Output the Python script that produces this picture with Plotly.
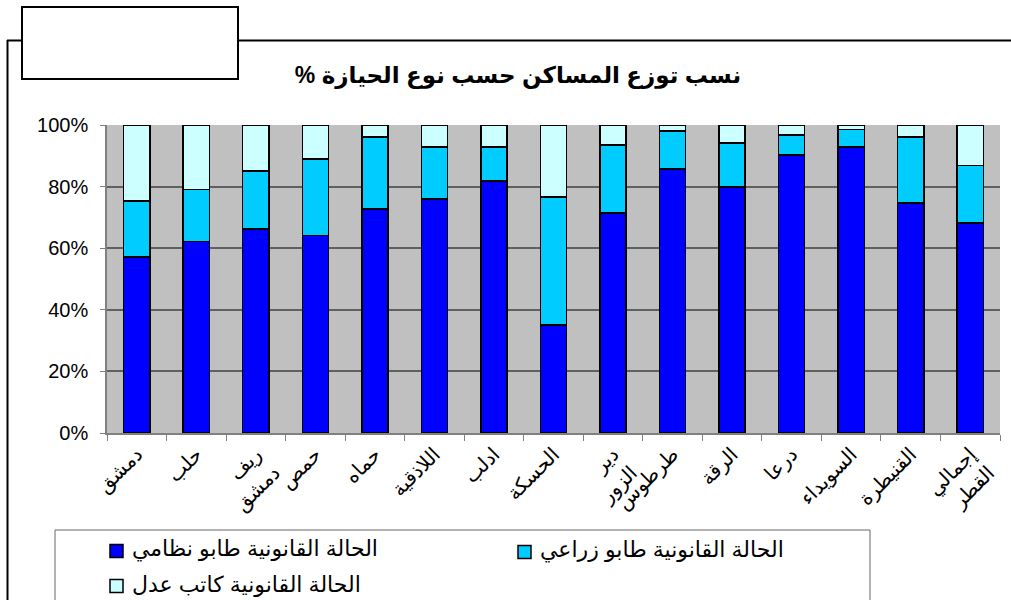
import plotly.graph_objects as go

categories = ["دمشق", "حلب", "ريف دمشق", "حمص", "حماه", "اللاذقية", "ادلب", "الحسكة",
              "دير الزور", "طرطوس", "الرقة", "درعا", "السويداء", "القنيطرة", "إجمالي القطر"]
tick_text = ["دمشق", "حلب", "ريف<br>دمشق", "حمص", "حماه", "اللاذقية", "ادلب", "الحسكة",
             "دير<br>الزور", "طرطوس", "الرقة", "درعا", "السويداء", "القنيطرة", "إجمالي<br>القطر"]

series_names = ["الحالة القانونية طابو نظامي", "الحالة القانونية طابو زراعي", "الحالة القانونية كاتب عدل"]
tabu_nizami = [57.1, 62.2, 66.2, 64.2, 72.7, 76.0, 81.8, 35.1, 71.4, 85.7, 79.9, 90.3, 92.9, 74.7, 68.2]
tabu_ziraei = [18.2, 16.9, 18.8, 24.8, 23.4, 16.9, 11.1, 41.5, 22.1, 12.4, 14.3, 6.5, 5.7, 21.4, 18.7]
katib_adl = [24.7, 20.9, 15.0, 11.0, 3.9, 7.1, 7.1, 23.4, 6.5, 1.9, 5.8, 3.2, 1.4, 3.9, 13.1]
colors = ["#0000FF", "#00CCFF", "#CCFFFF"]
y_ticks = [0, 20, 40, 60, 80, 100]
y_tick_labels = ["0%", "20%", "40%", "60%", "80%", "100%"]
title_text = "نسب توزع المساكن حسب نوع الحيازة %"

FONT = "Arial, 'Liberation Sans', 'DejaVu Sans', sans-serif"
RLM = "\u200f"

fig = go.Figure()
for name, vals, col in zip(series_names, [tabu_nizami, tabu_ziraei, katib_adl], colors):
    fig.add_trace(go.Bar(x=categories, y=vals, name=name, width=0.44,
                         marker=dict(color=col, line=dict(color="black", width=1.5)),
                         showlegend=False))

W, H = 1011, 600
L, R, T, B = 107, 11, 125, 167
pw, ph = W - L - R, H - T - B

def px(x):
    return (x - L) / pw

def py(y):
    return (H - B - y) / ph

shapes = []
# outer frame lines
shapes.append(dict(type="line", xref="paper", yref="paper", x0=px(7), x1=px(1015), y0=py(40.5), y1=py(40.5),
                   line=dict(color="black", width=2)))
shapes.append(dict(type="line", xref="paper", yref="paper", x0=px(7.5), x1=px(7.5), y0=py(40), y1=py(605),
                   line=dict(color="black", width=2)))
# top-left box
shapes.append(dict(type="rect", xref="paper", yref="paper", x0=px(22), x1=px(238), y0=py(7), y1=py(79),
                   fillcolor="white", line=dict(color="black", width=2)))
# legend box
shapes.append(dict(type="rect", xref="paper", yref="paper", x0=px(55), x1=px(870), y0=py(530), y1=py(610),
                   fillcolor="white", line=dict(color="#666666", width=1)))

annotations = []
legend_pos = [(110, 551), (518, 552), (110, 586)]
for (lx, ly), name, col in zip(legend_pos, series_names, colors):
    shapes.append(dict(type="rect", xref="paper", yref="paper", x0=px(lx), x1=px(lx + 13),
                       y0=py(ly - 6.5), y1=py(ly + 6.5), fillcolor=col, line=dict(color="black", width=1.5)))
    annotations.append(dict(xref="paper", yref="paper", x=px(lx + 20), y=py(ly - 2), text=name,
                            showarrow=False, xanchor="left", yanchor="middle",
                            font=dict(size=22, color="black", family=FONT)))

fig.update_layout(
    width=W, height=H,
    margin=dict(l=L, r=R, t=T, b=B),
    barmode="stack",
    paper_bgcolor="white",
    plot_bgcolor="#C0C0C0",
    font=dict(family=FONT, color="black"),
    title=dict(text="<b>" + RLM + title_text + RLM + "</b>", x=518 / W, y=1 - 75 / H,
               xanchor="center", yanchor="middle",
               font=dict(size=23, color="black", family=FONT)),
    xaxis=dict(type="category", tickmode="array", tickvals=categories, ticktext=tick_text,
               tickangle=-45, tickson="boundaries", ticks="outside", ticklen=6, tickcolor="#808080",
               showgrid=False, showline=True, linecolor="#808080", linewidth=1.5,
               tickfont=dict(size=20, family=FONT), range=[-0.5, 14.5]),
    yaxis=dict(range=[0, 100], tickvals=y_ticks, ticktext=y_tick_labels, ticks="outside", ticklen=5,
               tickcolor="#808080", showgrid=True, gridcolor="#606060", gridwidth=1.5,
               showline=True, linecolor="#808080", linewidth=1.5, zeroline=False,
               ticklabelstandoff=8,
               tickfont=dict(size=20, family=FONT)),
    shapes=shapes,
    annotations=annotations,
)

fig.write_html("out.html", config={"displayModeBar": False},
               post_script="document.body.style.margin='0px';document.body.style.overflow='hidden';")
